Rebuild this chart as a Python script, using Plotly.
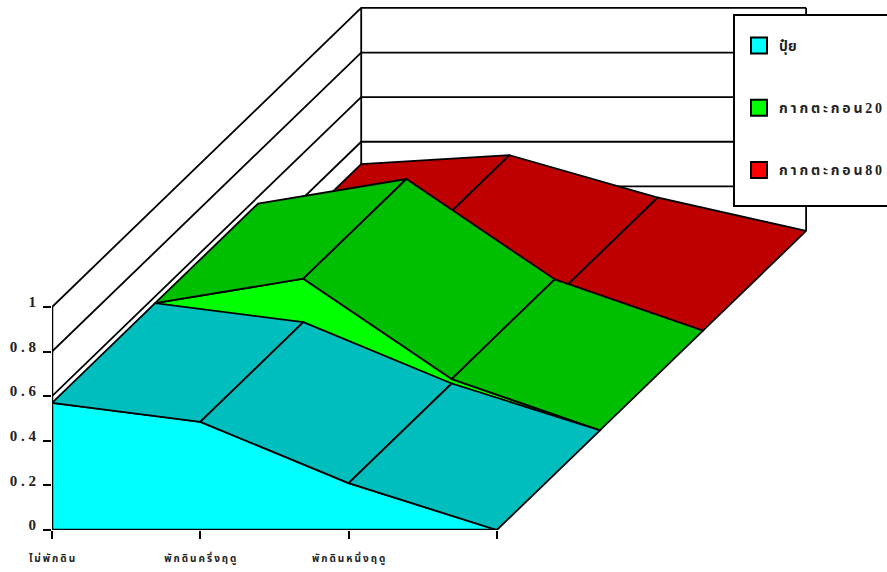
import plotly.graph_objects as go

# Nitrogen response by fallow treatment, one ribbon per fertiliser
categories = ["ไม่พักดิน", "พักดินครึ่งฤดู", "พักดินหนึ่งฤดู", ""]
series_names = ["ปุ๋ย", "กากตะกอน20", "กากตะกอน80"]
fertiliser = [0.57, 0.485, 0.21, 0.0]
sludge_20 = [0.57, 0.68, 0.23, 0.0]
sludge_80 = [0.30, 0.34, 0.15, 0.0]
value_ticks = [0, 0.2, 0.4, 0.6, 0.8, 1]
value_tick_labels = ["0", "0 . 2", "0 . 4", "0 . 6", "0 . 8", "1"]

front_colors = ["#00ffff", "#00ff00", "#ff0000"]
top_colors = ["#00bebe", "#00be00", "#be0000"]
FONT = "Liberation Serif, Noto Sans Thai, Noto Sans, DejaVu Sans"

# Oblique projection: each depth step shifts right and up on the plot axes
DEPTH_X = 0.695
DEPTH_Y = 0.447
N_DEPTH = 3


def project(cat, val, depth):
    return cat + depth * DEPTH_X, val + depth * DEPTH_Y


def spaced(text):
    # Open the letters out, leaving combining vowel and tone marks on their base
    out = ""
    for ch in text:
        if out and not ("\u0e31" == ch or "\u0e34" <= ch <= "\u0e3a" or "\u0e47" <= ch <= "\u0e4e"):
            out += "\u2009"
        out += ch
    return out


fig = go.Figure()


def add_path(points, width=1.8, fill=None):
    xs, ys = zip(*[project(*p) for p in points])
    fig.add_trace(go.Scatter(
        x=xs, y=ys, mode="lines", showlegend=False, hoverinfo="skip", cliponaxis=False,
        line=dict(color="black", width=width),
        fill="toself" if fill else None, fillcolor=fill,
    ))


# Walls and grid
last = len(categories) - 1
for v in value_ticks[1:]:
    add_path([(0, v, 0), (0, v, N_DEPTH), (last, v, N_DEPTH)])
add_path([(0, 0, N_DEPTH), (0, 1, N_DEPTH)])
add_path([(last, 0, N_DEPTH), (last, 1, N_DEPTH)])

# Ribbons from back to front
ribbons = [sludge_80, sludge_20, fertiliser]
for idx, values in enumerate(ribbons):
    depth = N_DEPTH - 1 - idx
    color_idx = 2 - idx
    front = [(i, v, depth) for i, v in enumerate(values)]
    add_path(front + [(last, 0, depth), (0, 0, depth), front[0]], fill=front_colors[color_idx])
    for i in range(last):
        add_path([(i, values[i], depth), (i + 1, values[i + 1], depth),
                  (i + 1, values[i + 1], depth + 1), (i, values[i], depth + 1),
                  (i, values[i], depth)], fill=top_colors[color_idx])

add_path([(0, 0, 0), (0, 1, 0)], width=2.5)
add_path([(0, 0, 0), (last, 0, 0)], width=2.5)

# Legend entries
for name, color in zip(series_names, front_colors):
    fig.add_trace(go.Scatter(
        x=[None], y=[None], mode="markers", name=spaced(name) if name != series_names[0] else name,
        legendgroup=name,
        marker=dict(symbol="square", size=16, color=color, line=dict(color="black", width=2)),
    ))

fig.update_layout(
    width=887, height=572,
    margin=dict(l=52, r=0, t=0, b=42, autoexpand=False),
    paper_bgcolor="white", plot_bgcolor="white",
    font=dict(family=FONT, color="#222222"),
    xaxis=dict(
        range=[0, 835 / 148.3], showgrid=False, zeroline=False, showline=False,
        tickmode="array", tickvals=list(range(len(categories))),
        ticktext=[spaced(c) for c in categories],
        ticks="outside", ticklen=8, tickwidth=2, tickcolor="black",
        tickfont=dict(size=10, family=FONT, weight="bold"),
        ticklabelstandoff=11,
    ),
    yaxis=dict(
        range=[0, 530 / 223], showgrid=False, zeroline=False, showline=False,
        tickmode="array", tickvals=value_ticks, ticktext=value_tick_labels,
        ticks="outside", ticklen=8, tickwidth=2, tickcolor="black",
        tickfont=dict(size=15, family=FONT, weight="bold"),
        ticklabelstandoff=4, ticklabelshift=-5,
    ),
    legend=dict(
        x=687 / 835, y=1 - 30 / 530, xanchor="left", yanchor="top",
        bgcolor="rgba(0,0,0,0)", borderwidth=0,
        tracegroupgap=41, entrywidth=110, entrywidthmode="pixels",
        font=dict(size=14, family=FONT, weight="bold"),
    ),
    showlegend=True,
    # Legend panel, running past the right edge of the page
    shapes=[dict(type="rect", xref="paper", yref="paper", layer="above",
                 x0=682 / 835, x1=1.02, y0=1 - 206 / 530, y1=1 - 15 / 530,
                 fillcolor="white", line=dict(color="black", width=2))],
)

fig.write_html("out.html")
